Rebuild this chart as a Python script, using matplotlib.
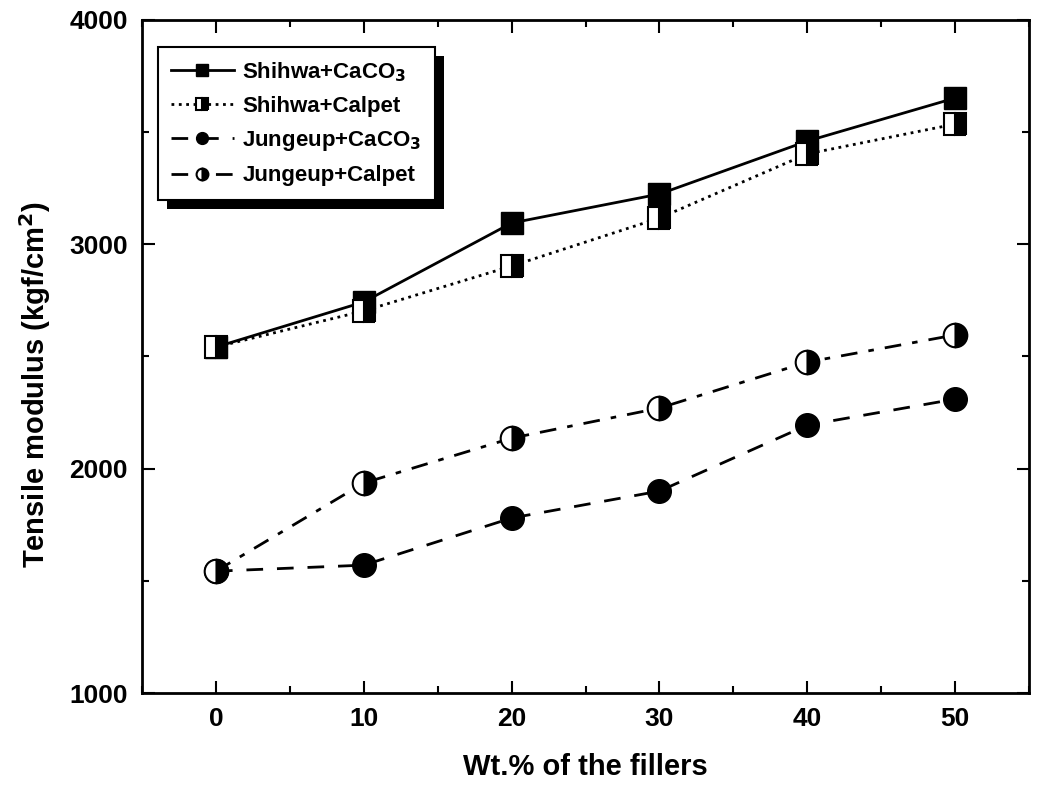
import matplotlib.pyplot as plt
from matplotlib.ticker import MultipleLocator
from matplotlib.patches import Rectangle

plt.rcParams['font.family'] = ['Liberation Sans', 'DejaVu Sans']
plt.rcParams['font.weight'] = 'bold'
plt.rcParams['mathtext.default'] = 'bf'

wt = [0, 10, 20, 30, 40, 50]
shihwa_caco3 = [2542, 2743, 3095, 3224, 3460, 3652]
shihwa_calpet = [2542, 2703, 2903, 3117, 3403, 3536]
jungeup_caco3 = [1543, 1570, 1780, 1900, 2194, 2310]
jungeup_calpet = [1543, 1936, 2136, 2270, 2475, 2596]

fig = plt.figure(figsize=(10.41, 7.86), dpi=100)
ax = fig.add_axes([0.1364, 0.1183, 0.8521, 0.8563])

ax.plot(wt, shihwa_caco3, '-', color='black', lw=2, marker='s', ms=16,
        mfc='black', mec='black', label='Shihwa+CaCO$_3$')
ax.plot(wt, shihwa_calpet, ':', color='black', lw=2, marker='s', ms=16,
        fillstyle='right', mfc='black', mfcalt='white', mec='black', mew=1.5,
        label='Shihwa+Calpet')
ax.plot(wt, jungeup_caco3, '--', color='black', lw=2, dashes=(6, 5), marker='o', ms=17,
        mfc='black', mec='black', label='Jungeup+CaCO$_3$')
ax.plot(wt, jungeup_calpet, '-.', color='black', lw=2, dashes=(6, 4, 2, 4), marker='o', ms=17,
        fillstyle='right', mfc='black', mfcalt='white', mec='black', mew=1.5,
        label='Jungeup+Calpet')

ax.set_xlim(-5, 55)
ax.set_ylim(1000, 4000)
ax.xaxis.set_major_locator(MultipleLocator(10))
ax.xaxis.set_minor_locator(MultipleLocator(5))
ax.yaxis.set_major_locator(MultipleLocator(1000))
ax.yaxis.set_minor_locator(MultipleLocator(500))
ax.tick_params(which='both', direction='in', top=True, right=True, width=1.5)
ax.tick_params(which='major', length=9, labelsize=19, pad=10)
ax.tick_params(which='minor', length=5)
for s in ax.spines.values():
    s.set_linewidth(2)

ax.set_xlabel('Wt.% of the fillers', fontsize=21, fontweight='bold', labelpad=16)
ax.set_ylabel('Tensile modulus (kgf/cm$^2$)', fontsize=21, fontweight='bold')
ax.yaxis.set_label_coords(-0.10, 0.458)

leg = ax.legend(loc='upper left', bbox_to_anchor=(0.018, 0.96), borderaxespad=0,
                frameon=True, fancybox=False, edgecolor='black', framealpha=1,
                fontsize=16, markerscale=0.5, handlelength=2.8, handletextpad=0.4,
                labelspacing=0.55, borderpad=0.6)
leg.get_frame().set_linewidth(1.5)
leg.set_zorder(6)

# thick drop shadow behind the legend box
fig.canvas.draw()
bb = leg.get_window_extent()
ax.add_patch(Rectangle((bb.x0 + 9, bb.y0 - 9), bb.width, bb.height,
                       transform=None, facecolor='black', edgecolor='none', zorder=5))

fig.savefig('out.png', dpi=100)
